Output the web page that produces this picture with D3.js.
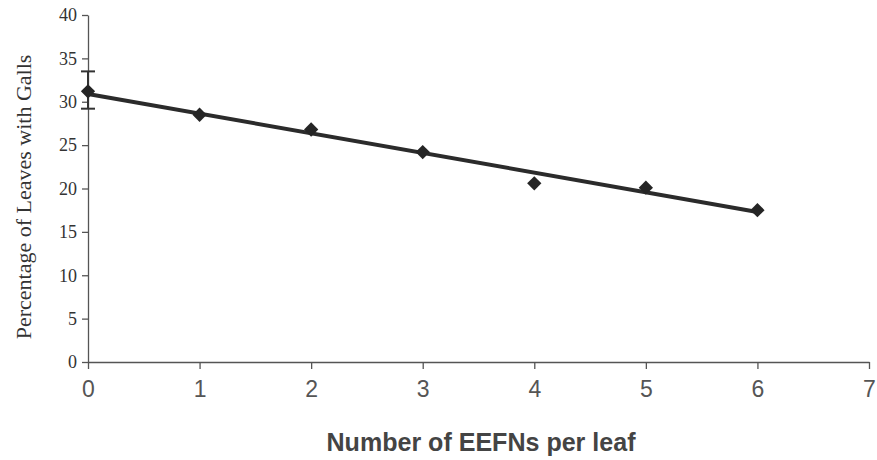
<!DOCTYPE html>
<html>
<head>
<meta charset="utf-8">
<script src="https://cdn.jsdelivr.net/npm/d3@7"></script>
<style>
body { margin: 0; background: #fff; }
.y.axis text { font-family: "Liberation Serif", "Times New Roman", serif; font-size: 18px; fill: #333; }
.x.axis text { font-family: "Liberation Sans", Arial, sans-serif; font-size: 23px; fill: #555; }
.axis path, .axis line { stroke: #555; stroke-width: 1.3px; }
</style>
</head>
<body>
<svg class="chart"></svg>
<script>
// values
var eefns = [0, 1, 2, 3, 4, 5, 6];
var gallPercent = [31.2, 28.5, 26.8, 24.2, 20.6, 20.1, 17.5];
var errorBar = {x: 0, low: 29.2, high: 33.5};
var trendX = [0, 6];
var trendY = [30.9, 17.3];
var xTicks = [0, 1, 2, 3, 4, 5, 6, 7];
var yTicks = [0, 5, 10, 15, 20, 25, 30, 35, 40];

var outerSize = {width: 877, height: 460};
var margin = {top: 15, right: 8, bottom: 98, left: 88};
var innerSize = {width: outerSize.width - margin.left - margin.right,
    height: outerSize.height - margin.top - margin.bottom};

var chart = d3.select(".chart")
        .attr("width", outerSize.width)
        .attr("height", outerSize.height)
        .append("g")
        .attr("transform", "translate(" + margin.left + "," + margin.top + ")");

var xRange = d3.scaleLinear()
        .domain([0, 7])
        .range([0, innerSize.width]);
var yRange = d3.scaleLinear()
        .domain([0, 40])
        .range([innerSize.height, 0]);

chart.append("g")
        .attr("class", "x axis")
        .attr("transform", "translate(0," + innerSize.height + ")")
        .call(d3.axisBottom(xRange).tickValues(xTicks).tickFormat(d3.format("d"))
                .tickSize(7).tickSizeOuter(0).tickPadding(12));

chart.append("g")
        .attr("class", "y axis")
        .call(d3.axisLeft(yRange).tickValues(yTicks).tickFormat(d3.format("d"))
                .tickSize(6).tickSizeOuter(0).tickPadding(5));

chart.append("text")
        .attr("transform", "translate(" + (-65) + "," + (182) + ") rotate(-90)")
        .attr("dy", "0.35em")
        .style("text-anchor", "middle")
        .style("font-family", "\"Liberation Serif\", \"Times New Roman\", serif")
        .style("font-size", "22px")
        .style("fill", "#333")
        .text("Percentage of Leaves with Galls");

chart.append("text")
        .attr("x", 393)
        .attr("y", innerSize.height + 80)
        .attr("dy", "0.35em")
        .attr("textLength", 309)
        .attr("lengthAdjust", "spacingAndGlyphs")
        .style("text-anchor", "middle")
        .style("font-family", "\"Liberation Sans Narrow\", \"Arial Narrow\", \"Liberation Sans\", sans-serif")
        .style("font-weight", "bold")
        .style("font-size", "25px")
        .style("fill", "#444")
        .text("Number of EEFNs per leaf");

// error bar on the first point
var eb = chart.append("g").attr("class", "errorBar")
        .style("stroke", "#333").style("stroke-width", 2);
eb.append("line")
        .attr("x1", xRange(errorBar.x)).attr("x2", xRange(errorBar.x))
        .attr("y1", yRange(errorBar.low)).attr("y2", yRange(errorBar.high));
[errorBar.low, errorBar.high].forEach(function (v) {
    eb.append("line")
            .attr("x1", xRange(errorBar.x) - 7).attr("x2", xRange(errorBar.x) + 7)
            .attr("y1", yRange(v)).attr("y2", yRange(v));
});

// trend line
var line = d3.line()
        .x(function (d) { return xRange(d[0]); })
        .y(function (d) { return yRange(d[1]); });
chart.append("path")
        .datum(d3.zip(trendX, trendY))
        .attr("d", line)
        .style("fill", "none")
        .style("stroke", "#2b2b2b")
        .style("stroke-width", 4);

// diamond markers
var diamond = d3.symbol().type(d3.symbolDiamond2).size(130);
chart.selectAll(".point")
        .data(d3.zip(eefns, gallPercent))
        .enter().append("path")
        .attr("class", "point")
        .attr("d", diamond)
        .attr("transform", function (d) {
            return "translate(" + xRange(d[0]) + "," + yRange(d[1]) + ")";
        })
        .style("fill", "#252525");
</script>
</body>
</html>
